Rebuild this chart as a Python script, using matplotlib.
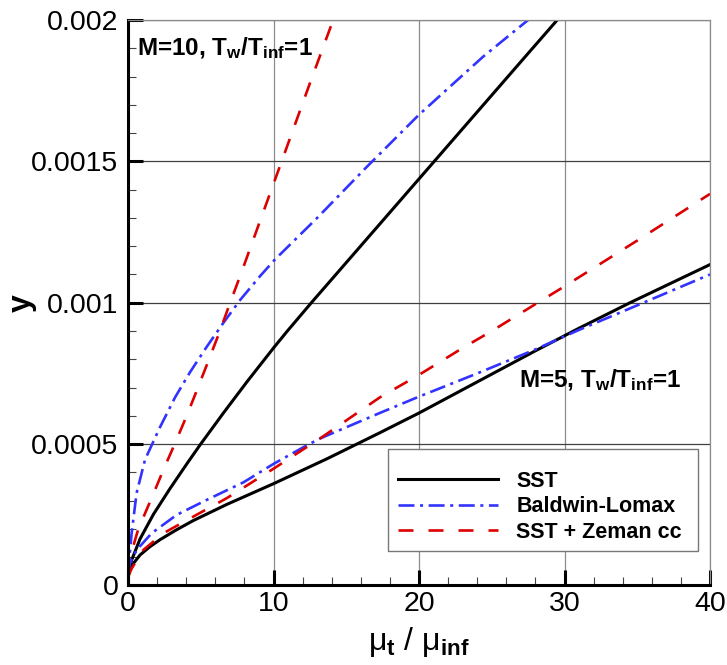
import matplotlib
matplotlib.use('Agg')
import matplotlib.pyplot as plt
from matplotlib.patches import Rectangle
from matplotlib.ticker import MultipleLocator

plt.rcParams['font.family'] = ['Liberation Sans', 'DejaVu Sans']
plt.rcParams['mathtext.fontset'] = 'custom'
plt.rcParams['mathtext.rm'] = 'Liberation Sans'
plt.rcParams['mathtext.it'] = 'Liberation Sans:italic'
plt.rcParams['mathtext.bf'] = 'Liberation Sans:bold'
plt.rcParams['mathtext.sf'] = 'Liberation Sans'
plt.rcParams['lines.scale_dashes'] = False

# M=10 curves
x10_sst = [0, 0.25, 0.83, 1.75, 2.89, 4.04, 4.95, 6.57, 8.17, 10, 10.92, 12.6,
           15, 17.5, 20, 22.5, 25, 27.5, 29.5]
y10_sst = [0.00004, 0.00009, 0.000165, 0.000252, 0.000343, 0.00043, 0.000497, 0.000611,
           0.00072, 0.00084, 0.000898, 0.001, 0.001142, 0.00129, 0.001438, 0.001586,
           0.001734, 0.001882, 0.002]
x10_bl = [0, 0.1, 0.25, 0.59, 1.17, 1.75, 2.2, 3.23, 4.27, 5.42, 6.57, 7.71, 9.09, 10.1,
          13, 16.4, 20, 24.4, 27.5]
y10_bl = [0.00004, 0.0001, 0.000185, 0.000327, 0.000445, 0.00051, 0.00056, 0.000665, 0.000755,
          0.000845, 0.00093, 0.00101, 0.001095, 0.001153, 0.0013, 0.00148, 0.001665,
          0.00187, 0.002]
x10_zc = [0, 0.25, 0.71, 1.63, 2.44, 3.25, 4.04, 4.73, 5.53, 6.22, 7.02, 7.83, 8.8,
          10.56, 12.5, 14.1, 14.6]
y10_zc = [0.00004, 0.00012, 0.0002, 0.00031, 0.00041, 0.000505, 0.000601, 0.00069, 0.000795,
          0.000887, 0.001, 0.001112, 0.00125, 0.0015, 0.001776, 0.002, 0.00207]

# M=5 curves
x5_sst = [0, 0.1, 0.4, 0.83, 1.5, 2.2, 3.3, 4.5, 6.8, 10, 13.67, 17.3, 20, 24, 28, 31, 34.5, 40]
y5_sst = [0.00003, 0.00005, 0.00008, 0.000108, 0.000137, 0.000162, 0.000196, 0.00023,
          0.000287, 0.00036, 0.000448, 0.00054, 0.00061, 0.00072, 0.00083, 0.00091, 0.001,
          0.001135]
x5_bl = [0, 0.14, 0.6, 1.63, 3.35, 5.42, 7.94, 10, 12.3, 13.2, 17.3, 20, 24, 28, 31, 34.5, 40]
y5_bl = [0.00004, 0.00008, 0.000126, 0.000185, 0.00025, 0.000303, 0.000365, 0.00043,
         0.000496, 0.00052, 0.00061, 0.000668, 0.00075, 0.000835, 0.000904, 0.00098, 0.0011]
x5_zc = [0, 0.25, 1.06, 2.44, 4.5, 6.79, 10.03, 12, 13.2, 17.3, 20, 23, 25, 28, 30, 35, 40]
y5_zc = [0.00003, 0.00006, 0.000126, 0.000185, 0.000244, 0.000309, 0.000414, 0.00048,
         0.00052, 0.000665, 0.000745, 0.00084, 0.0009, 0.000995, 0.001058, 0.00122, 0.001385]

labels = ['SST', 'Baldwin-Lomax', 'SST + Zeman cc']
xticks = [0, 10, 20, 30, 40]
yticks = [0, 0.0005, 0.001, 0.0015, 0.002]
yticklabels = ['0', '0.0005', '0.001', '0.0015', '0.002']

blue = '#3333ff'
red = '#dd0000'
bl_dash = (11.5, 4, 2.2, 4)
zc_dash = (10.8, 10.8)

fig = plt.figure(figsize=(7.27, 6.65), dpi=100)
ax = fig.add_axes([0.17607, 0.11955, 0.80055, 0.85038])

h1, = ax.plot(x10_sst, y10_sst, color='black', lw=2.2, label=labels[0])
h2, = ax.plot(x10_bl, y10_bl, color=blue, lw=1.9, dashes=bl_dash, label=labels[1])
h3, = ax.plot(x10_zc, y10_zc, color=red, lw=1.9, dashes=zc_dash, label=labels[2])
ax.plot(x5_sst, y5_sst, color='black', lw=2.2)
ax.plot(x5_bl, y5_bl, color=blue, lw=1.9, dashes=bl_dash)
ax.plot(x5_zc, y5_zc, color=red, lw=1.9, dashes=zc_dash)

ax.set_xlim(0, 40)
ax.set_ylim(0, 0.002)
ax.set_xticks(xticks)
ax.set_xticklabels([str(t) for t in xticks])
ax.set_yticks(yticks)
ax.set_yticklabels(yticklabels)
ax.xaxis.set_minor_locator(MultipleLocator(2))
ax.yaxis.set_minor_locator(MultipleLocator(0.0001))

ax.set_axisbelow(True)
ax.xaxis.grid(True, which='major', color='#8c8c8c', lw=0.9)
ax.yaxis.grid(True, which='major', color='#404040', lw=0.9)

for s in ['left', 'bottom']:
    ax.spines[s].set_linewidth(2.2)
    ax.spines[s].set_color('black')
for s in ['top', 'right']:
    ax.spines[s].set_linewidth(0.9)
    ax.spines[s].set_color('#8c8c8c')

ax.tick_params(which='both', direction='in', top=False, right=False)
ax.tick_params(which='major', length=10.8, width=2.2, color='black', labelsize=20.5)
ax.tick_params(axis='y', which='major', pad=7)
ax.tick_params(axis='x', which='major', pad=4)
ax.tick_params(which='minor', length=5.8, width=0.8, color='#444444')

ax.text(-0.182, 0.5, 'y', transform=ax.transAxes, rotation=90, ha='center', va='center',
        fontsize=23, fontweight='bold')
ax.text(0.5, -0.1, r'$\mathrm{\mu}_{\mathbf{t}}$ / $\mathrm{\mu}_{\mathbf{inf}}$',
        transform=ax.transAxes, ha='center', va='center', fontsize=23)

ax.text(0.0155, 0.938, r'M=10, $\mathbf{T_w/T_{inf}}$=1', transform=ax.transAxes,
        fontsize=17.5, fontweight='bold', va='baseline', ha='left')
ax.text(0.672, 0.3505, r'M=5, $\mathbf{T_w/T_{inf}}$=1', transform=ax.transAxes,
        fontsize=17.5, fontweight='bold', va='baseline', ha='left')

# legend frame drawn separately
frame = Rectangle((0.4462, 0.061), 0.5337, 0.1804, transform=ax.transAxes,
                  facecolor='white', edgecolor='#777777', lw=1.0, zorder=4)
ax.add_patch(frame)
leg = ax.legend(handles=[h1, h2, h3], loc='center left', bbox_to_anchor=(0.4644, 0.1393),
                frameon=False, borderpad=0, borderaxespad=0, handlelength=4.65,
                handletextpad=0.84, labelspacing=0.2,
                prop={'weight': 'bold', 'size': 15.5})
leg.set_zorder(5)

fig.savefig('out.png', dpi=100)
